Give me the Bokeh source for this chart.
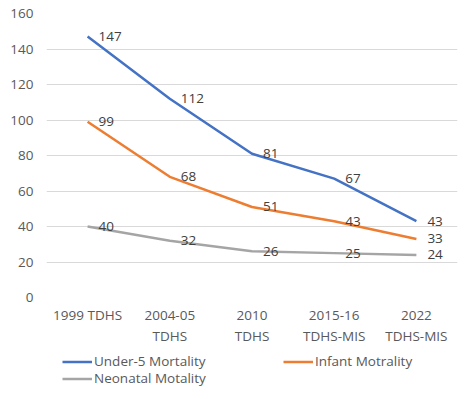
from bokeh.plotting import figure
from bokeh.layouts import column
from bokeh.models import ColumnDataSource, Legend, LegendItem, SingleIntervalTicker, FactorRange
from bokeh.core.properties import value
from bokeh.embed import file_html
from bokeh.resources import INLINE

categories = ["1999 TDHS", "2004-05\nTDHS", "2010\nTDHS", "2015-16\nTDHS-MIS", "2022\nTDHS-MIS"]
under5 = [147, 112, 81, 67, 43]
infant = [99, 68, 51, 43, 33]
neonatal = [40, 32, 26, 25, 24]
series_names = ["Under-5 Mortality", "Infant Motrality", "Neonatal Motality"]
colors = ["#4472C4", "#ED7D31", "#A5A5A5"]

FONT = "Open Sans"
FS = "13.5px"

p = figure(width=460, height=350, x_range=FactorRange(*categories), y_range=(0, 160),
           output_backend="svg", toolbar_location=None,
           min_border_left=46, min_border_right=3, min_border_top=13, min_border_bottom=53)
p.outline_line_color = None
p.background_fill_color = "white"
p.border_fill_color = "white"

for vals, col in zip([under5, infant, neonatal], colors):
    src = ColumnDataSource(dict(x=categories, y=vals, t=[str(v) for v in vals]))
    p.line("x", "y", source=src, line_color=col, line_width=2.5)
    p.text("x", "y", text="t", source=src, x_offset=11, text_baseline="middle",
           text_align="left", text_color="#404040", text_font=value(FONT), text_font_size=FS)

p.yaxis.ticker = SingleIntervalTicker(interval=20)
p.ygrid.ticker = SingleIntervalTicker(interval=20)
p.ygrid.grid_line_color = "#d9d9d9"
p.ygrid.grid_line_width = 1
p.xgrid.grid_line_color = None
for ax in [p.xaxis[0], p.yaxis[0]]:
    ax.axis_line_color = None
    ax.major_tick_line_color = None
    ax.minor_tick_line_color = None
    ax.major_tick_out = 0
    ax.major_tick_in = 0
    ax.minor_tick_out = 0
    ax.major_label_text_color = "#595959"
    ax.major_label_text_font = FONT
    ax.major_label_text_font_size = FS
p.yaxis.major_label_standoff = 13
p.xaxis.major_label_standoff = 8

# legend strip below the chart
lg = figure(width=460, height=40, output_backend="svg", toolbar_location=None,
            x_axis_location=None, y_axis_location=None,
            min_border=0, x_range=(0, 1), y_range=(0, 1))
lg.grid.visible = False
lg.outline_line_color = None
lg.border_fill_color = "white"
nan = float("nan")
dummies = [lg.line([nan], [nan], line_color=c, line_width=2.5) for c in colors]

common = dict(orientation="horizontal", margin=0, padding=0, spacing=0,
              glyph_width=30, glyph_height=17, label_height=17, label_standoff=2,
              border_line_color=None, background_fill_alpha=0,
              label_text_font=FONT, label_text_font_size=FS, label_text_color="#595959")
legend1 = Legend(items=[LegendItem(label=series_names[i], renderers=[dummies[i]]) for i in (0, 1)],
                 label_width=189, location=(16, 20), **common)
legend2 = Legend(items=[LegendItem(label=series_names[2], renderers=[dummies[2]])],
                 location=(16, 3), **common)
lg.add_layout(legend1, "center")
lg.add_layout(legend2, "center")

open("out.html", "w").write(file_html(column(p, lg, spacing=0), INLINE))
